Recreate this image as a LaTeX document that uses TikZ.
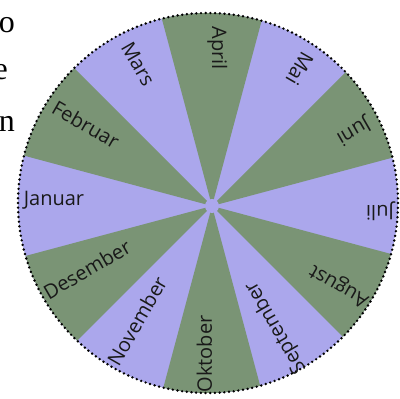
\documentclass[tikz,border=0pt]{standalone}
\usepackage{fontspec}
\setmainfont{Liberation Serif}
\newfontfamily\labfont{Open Sans}
\usetikzlibrary{calc}
\definecolor{lav}{HTML}{ABA7EC}
\definecolor{grn}{HTML}{7A9475}
\begin{document}
\begin{tikzpicture}[x=1pt,y=1pt,
  month/.style={font=\labfont\fontsize{20}{20}\selectfont, anchor=base, inner sep=0pt, text=black!90},
  pagetext/.style={font=\fontsize{32}{32}\selectfont, anchor=base east, inner sep=0pt},
  rim/.style={line width=2.7pt, dash pattern=on 0pt off 4.7pt, line cap=round, black}]
\useasboundingbox (0,0) rectangle (400,399);
\coordinate (apex) at (212,193);
\coordinate (cc) at (208,196);
\begin{scope}
  \clip (cc) circle (190);
  \fill[lav] (cc) circle (190);
  \foreach \a in {90,30,-30,-90,-150,150}
    \fill[grn] (apex) -- +(\a-15:320) -- +(\a+15:320) -- cycle;
\end{scope}
\draw[rim] (cc) circle (190);
\fill[lav] (apex) circle (7);
\foreach \name/\ang/\r in {Januar/180/158, Februar/150/150, Mars/120/160, April/90/158,
  Mai/60/163, Juni/30/160, Juli/0/168, August/-30/150, September/-60/137,
  Oktober/-90/148, November/-120/137, Desember/-150/140}
  \node[month, rotate=\ang+180] (\name) at ($(apex)+(\ang:\r)$) {\name};
\node[pagetext] (t1) at (15,366) {to};
\node[pagetext] (t2) at (8,319) {e};
\node[pagetext] (t3) at (15,267) {n};
\end{tikzpicture}
\end{document}
